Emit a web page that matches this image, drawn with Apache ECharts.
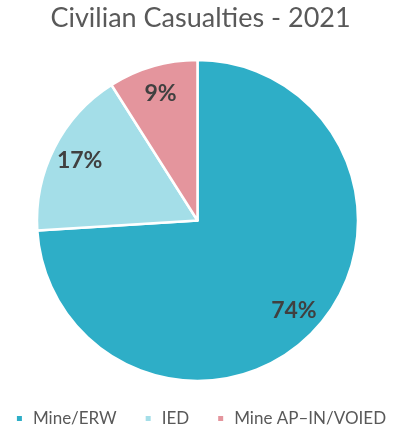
<!DOCTYPE html>
<html>
<head>
<meta charset="utf-8">
<script src="https://cdn.jsdelivr.net/npm/echarts@6/dist/echarts.min.js"></script>
<style>
  html, body { margin: 0; padding: 0; background: #fff; }
  #chart { width: 401px; height: 435px; }
</style>
</head>
<body>
<div id="chart"></div>
<script>
// Civilian casualties by cause, 2021 (percent of total)
const categories = ['Mine/ERW', 'IED', 'Mine AP\u2013IN/VOIED'];
const shares = [74, 17, 9];
const colors = ['#2EAEC7', '#A4DEE8', '#E4959D'];
const titleText = 'Civilian Casualties - 2021';

const FONT = 'Lato, "Open Sans", sans-serif';
const pieData = categories.map((name, i) => ({ name, value: shares[i] }));

const chart = echarts.init(document.getElementById('chart'), null, { renderer: 'canvas' });
chart.setOption({
  animation: false,
  color: colors,
  title: {
    text: titleText,
    left: 'center',
    top: 0,
    textStyle: { fontFamily: FONT, fontSize: 27, fontWeight: 'normal', color: '#595959' }
  },
  legend: {
    data: categories,
    bottom: 3,
    left: 'center',
    icon: 'rect',
    itemWidth: 7,
    itemHeight: 7,
    itemGap: 27,
    textStyle: { fontFamily: FONT, fontSize: 17, color: '#595959', padding: [0, 0, 0, 5] }
  },
  series: [
    {
      type: 'pie',
      center: [197.5, 220.5],
      radius: [0, 160.5],
      startAngle: 90,
      clockwise: true,
      data: pieData,
      label: { show: false },
      labelLine: { show: false },
      itemStyle: { borderColor: '#ffffff', borderWidth: 2.5 },
      emphasis: { disabled: true }
    },
    {
      // label ring: places the percentage text at ~80% of the radius
      type: 'pie',
      center: [197.5, 220.5],
      radius: [98, 160.5],
      startAngle: 90,
      clockwise: true,
      silent: true,
      data: pieData,
      itemStyle: { color: 'rgba(0,0,0,0)', borderWidth: 0 },
      label: {
        show: true,
        position: 'inside',
        formatter: p => p.value + '%',
        fontFamily: FONT,
        fontSize: 23,
        fontWeight: 'bold',
        color: '#404040'
      },
      labelLine: { show: false },
      emphasis: { disabled: true }
    }
  ]
});
</script>
</body>
</html>
